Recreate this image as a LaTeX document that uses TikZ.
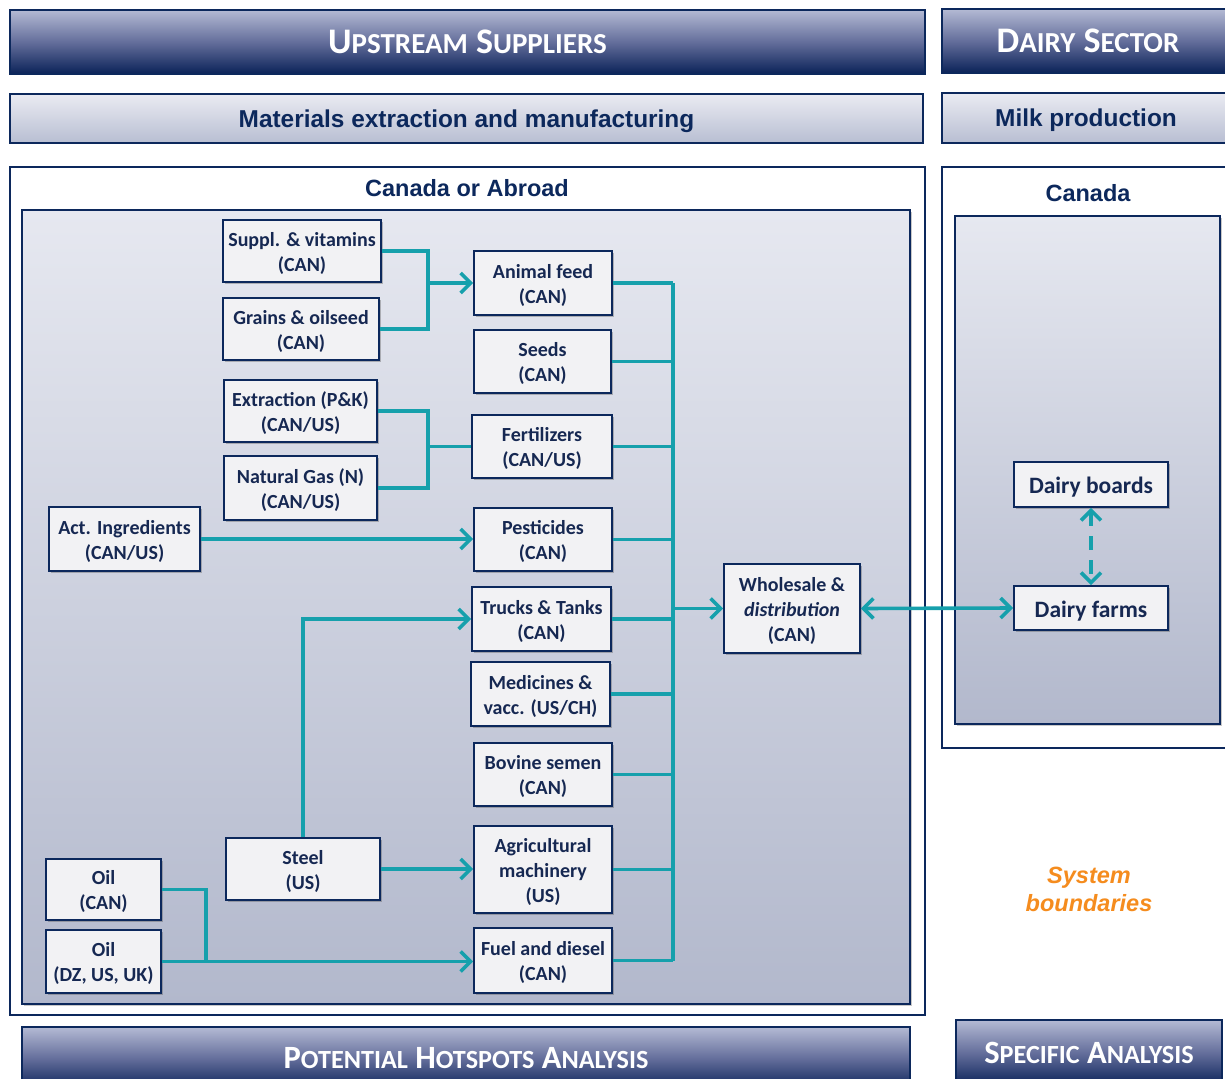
\documentclass[tikz,border=0pt]{standalone}
\usepackage{fontspec}
\setmainfont{Carlito}
\newfontfamily\arialfont{Liberation Sans}
\usetikzlibrary{arrows.meta,shadows}

\definecolor{navy}{RGB}{12,40,92}
\definecolor{ink}{RGB}{22,40,82}
\definecolor{flowteal}{RGB}{22,160,172}
\definecolor{bandtop}{RGB}{180,186,212}
\definecolor{bandmid}{RGB}{100,110,155}
\definecolor{bandbot}{RGB}{10,34,88}
\definecolor{lighttop}{RGB}{234,235,242}
\definecolor{lightbot}{RGB}{184,190,210}
\definecolor{paneltop}{RGB}{230,232,240}
\definecolor{panelbot}{RGB}{178,184,204}
\definecolor{boxfill}{RGB}{242,242,244}
\definecolor{sysorange}{RGB}{245,140,30}

% hand-made small capitals: large initial, smaller rest
\newcommand{\capsc}[2]{{\fontsize{36}{36}\selectfont #1}{\fontsize{29}{29}\selectfont #2}}
\newcommand{\capscsm}[2]{{\fontsize{32.5}{33}\selectfont #1}{\fontsize{26.2}{27}\selectfont #2}}

\tikzset{
  band/.style={draw=navy, line width=1.6pt, top color=bandtop, bottom color=bandbot,
    middle color=bandmid, text=white, inner sep=0pt,
    font=\bfseries\fontsize{36}{36}\selectfont},
  lowband/.style={band, font=\bfseries\fontsize{32.5}{33}\selectfont},
  subband/.style={draw=navy, line width=1.6pt, top color=lighttop, bottom color=lightbot,
    text=navy, inner sep=0pt, text height=23pt,
    font=\arialfont\bfseries\fontsize{24.4}{28}\selectfont},
  frame/.style={draw=navy, line width=1.6pt, fill=white},
  panel/.style={draw=navy, line width=1.6pt, top color=paneltop, bottom color=panelbot,
    drop shadow={shadow xshift=2pt, shadow yshift=-2pt, opacity=0.3, fill=black!70}},
  bx/.style={draw=navy, line width=1.8pt, fill=boxfill, text=ink, align=center,
    inner sep=0pt, text height=44pt, font=\bfseries\fontsize{20}{25}\selectfont,
    drop shadow={shadow xshift=2pt, shadow yshift=-2pt, opacity=0.35, fill=black!70}},
  bxthree/.style={bx, text height=68.5pt},
  bigbx/.style={bx, text height=22.5pt, font=\bfseries\fontsize{23.5}{28}\selectfont},
  wire/.style={draw=flowteal, line width=3.6pt},
  flow/.style={wire, -{Straight Barb[length=10pt,width=20pt]}},
  twoflow/.style={wire, {Straight Barb[length=10pt,width=20pt]}-{Straight Barb[length=10pt,width=20pt]}},
  title/.style={text=navy, font=\arialfont\bfseries\fontsize{23.5}{28}\selectfont},
}

\begin{document}
\begin{tikzpicture}[x=1pt,y=-1pt]
\useasboundingbox (0,0) rectangle (1225,1078);
\clip (0,0) rectangle (1225,1078);
\fill[white] (0,0) rectangle (1225,1078);

% ---- header bands ----
\node[band, minimum width=915, minimum height=64] (ups) at (467.5,42)
  {\capsc{U}{PSTREAM} \capsc{S}{UPPLIERS}};
\node[band, minimum width=292, minimum height=64] (dairy) at (1088,41)
  {\capsc{D}{AIRY} \capsc{S}{ECTOR}};
\node[subband, minimum width=913, minimum height=49] (mat) at (466.5,118.5)
  {Materials extraction and manufacturing};
\node[subband, minimum width=288, minimum height=50] (milk) at (1086,118)
  {Milk production};

% ---- containers ----
\path[frame] (10,167) rectangle (925,1015);
\path[panel] (22,210) rectangle (910,1004);
\path[frame] (942,167) rectangle (1240,748);
\path[panel] (955,216) rectangle (1220,724);
\node[title] (abroad) at (467,188) {Canada or Abroad};
\node[title] (canada) at (1088,193) {Canada};

% ---- upstream boxes ----
\node[bx, minimum width=158, minimum height=62] (supp)  at (302,251)   {Suppl. \& vitamins\\(CAN)};
\node[bx, minimum width=156, minimum height=62] (grain) at (301,329)   {Grains \& oilseed\\(CAN)};
\node[bx, minimum width=153, minimum height=62] (extr)  at (300.5,411) {Extraction (P\&K)\\(CAN/US)};
\node[bx, minimum width=153, minimum height=64] (ngas)  at (300.5,488) {Natural Gas (N)\\(CAN/US)};
\node[bx, minimum width=151, minimum height=64] (actin) at (124.5,539) {Act. Ingredients\\(CAN/US)};
\node[bx, minimum width=154, minimum height=62] (steel) at (303,869)   {Steel\\(US)};
\node[bx, minimum width=115, minimum height=61] (oilc)  at (103.5,889.5) {Oil\\(CAN)};
\node[bx, minimum width=115, minimum height=63] (oild)  at (103.5,961.5) {Oil\\(DZ, US, UK)};

% ---- input categories ----
\node[bx, minimum width=138, minimum height=64] (afeed)  at (543,283)   {Animal feed\\(CAN)};
\node[bx, minimum width=137, minimum height=63] (seeds)  at (542.5,361.5) {Seeds\\(CAN)};
\node[bx, minimum width=140, minimum height=63] (fert)   at (542,446.5) {Fertilizers\\(CAN/US)};
\node[bx, minimum width=138, minimum height=63] (pest)   at (543,539.5) {Pesticides\\(CAN)};
\node[bx, minimum width=139, minimum height=64] (truck)  at (541.5,619) {Trucks \& Tanks\\(CAN)};
\node[bx, minimum width=139, minimum height=64] (medic)  at (540.5,694) {Medicines \&\\vacc. (US/CH)};
\node[bx, minimum width=138, minimum height=63] (bovine) at (543,774.5) {Bovine semen\\(CAN)};
\node[bxthree, minimum width=138, minimum height=87] (agmach) at (543,869.5) {Agricultural\\machinery\\(US)};
\node[bx, minimum width=138, minimum height=65] (fuel)   at (543,960.5) {Fuel and diesel\\(CAN)};

\node[bxthree, minimum width=136, minimum height=89] (whole) at (792,608.5) {Wholesale \&\\\textit{distribution}\\(CAN)};

% ---- dairy sector ----
\node[bigbx, minimum width=154, minimum height=45] (boards) at (1091,484.5) {Dairy boards};
\node[bigbx, minimum width=154, minimum height=44] (farms)  at (1091,608)   {Dairy farms};

\node[text=sysorange, align=center, font=\arialfont\bfseries\itshape\fontsize{23.5}{28}\selectfont]
  (sys) at (1089,889) {System\\boundaries};

% ---- connectors ----
\coordinate (jfeed) at (428,283);
\coordinate (jfert) at (428,446.5);
\coordinate (joil)  at (206,961.5);
\coordinate (bustop) at (673,283);
\coordinate (busbot) at (673,961);

\draw[wire] (supp.east) -| (jfeed);
\draw[wire] (grain.east) -| (jfeed);
\draw[flow] (jfeed) -- (afeed.west);

\draw[wire] (extr.east) -| (jfert);
\draw[wire] (ngas.east) -| (jfert);
\draw[wire] (jfert) -- (fert.west);

\draw[flow] (actin.east) -- (actin.east -| pest.west);
\draw[flow] (steel.north) |- (truck.west);
\draw[flow] (steel.east) -- (steel.east -| agmach.west);

\draw[wire] (oilc.east) -| (joil);
\draw[flow] (oild.east) -- (oild.east -| fuel.west);

\draw[wire] (bustop) -- (busbot);
\foreach \n in {afeed,seeds,fert,pest,truck,medic,bovine,agmach,fuel}
  \draw[wire] (\n.east) -- (\n.east -| bustop);
\draw[flow] (whole.west -| bustop) -- (whole.west);

\draw[twoflow] (whole.east) -- (farms.west);
\draw[twoflow, dash pattern=on 14pt off 10pt] (boards.south) -- (farms.north);

% ---- bottom bands ----
\node[lowband, minimum width=888, minimum height=63] (hot) at (466,1058.5)
  {\capscsm{P}{OTENTIAL} \capscsm{H}{OTSPOTS} \capscsm{A}{NALYSIS}};
\node[lowband, minimum width=266, minimum height=66] (spec) at (1089,1053)
  {\capscsm{S}{PECIFIC} \capscsm{A}{NALYSIS}};
\end{tikzpicture}
\end{document}
